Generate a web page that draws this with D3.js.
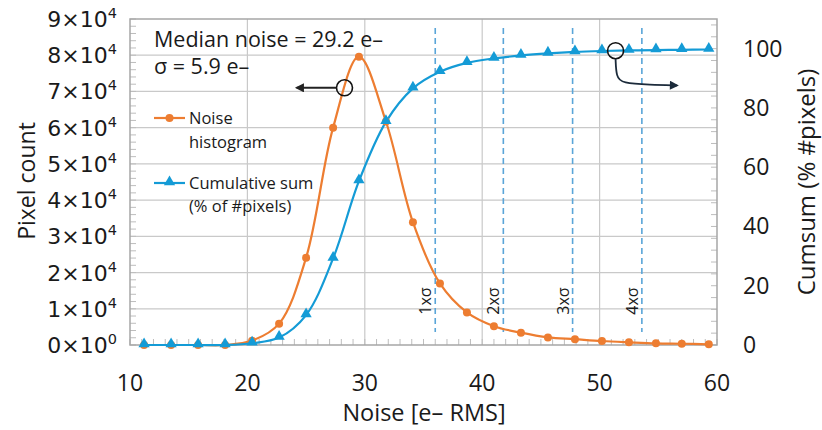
<!DOCTYPE html>
<html>
<head>
<meta charset="utf-8">
<script src="https://cdn.jsdelivr.net/npm/d3@7"></script>
<style>
  body { margin: 0; background: #fff; }
  text { font-family: "Open Sans", sans-serif; fill: #1a1a1a; }
</style>
</head>
<body>
<script>
// noise bins (e- RMS)
var noise = [11.2, 13.5, 15.8, 18.1, 20.4, 22.7, 25.0, 27.3, 29.5, 31.8, 34.1,
             36.4, 38.7, 41.0, 43.3, 45.6, 47.9, 50.2, 52.5, 54.8, 57.0, 59.3];
// pixel count per bin
var histogram = [0, 0, 0, 0, 1200, 5900, 24100, 60000, 79600, 61700, 33900,
                 17000, 9000, 5200, 3400, 2100, 1600, 1100, 750, 450, 350, 200];
// cumulative sum, % of pixels
var cumsum = [0, 0, 0, 0, 0.6, 2.5, 10.1, 29.2, 55.3, 75.3, 86.6,
              92.2, 95.2, 96.7, 97.7, 98.4, 98.9, 99.2, 99.4, 99.5, 99.6, 99.7];

var sigmaPos = [36.0, 41.8, 47.7, 53.6];
var sigmaLabels = ["1xσ", "2xσ", "3xσ", "4xσ"];

var xTicks = [10, 20, 30, 40, 50, 60];
var leftTicks = [0, 1, 2, 3, 4, 5, 6, 7, 8, 9];   // x10^4
var rightTicks = [0, 20, 40, 60, 80, 100];

var width = 822,
	height = 430;

var svg = d3.select("body").append("svg")
	.attr("width", width)
	.attr("height", height);

var xScale = d3.scaleLinear().domain([10, 60]).range([130, 717]);
var yLeft = d3.scaleLinear().domain([0, 90000]).range([345, 19]);
var yRight = d3.scaleLinear().domain([0, 110]).range([345, 19]);

var orange = "#ED7D31",
	blue = "#149BD6",
	grid = "#c9c9c9";

// gridlines
svg.selectAll(".hgrid")
	.data(d3.range(10000, 90000, 10000))
	.enter()
	.append("line")
		.attr("x1", xScale(10)).attr("x2", xScale(60))
		.attr("y1", function(d){ return yLeft(d); })
		.attr("y2", function(d){ return yLeft(d); })
		.attr("stroke", grid).attr("stroke-width", 1.2);

svg.selectAll(".vgrid")
	.data([20, 30, 40, 50])
	.enter()
	.append("line")
		.attr("y1", yLeft(0)).attr("y2", yLeft(90000))
		.attr("x1", function(d){ return xScale(d); })
		.attr("x2", function(d){ return xScale(d); })
		.attr("stroke", grid).attr("stroke-width", 1.2);

// minor ticks, drawn inward
svg.selectAll(".lminor")
	.data(d3.range(0, 90001, 2000))
	.enter()
	.append("line")
		.attr("x1", xScale(10)).attr("x2", xScale(10) + 6)
		.attr("y1", function(d){ return yLeft(d); })
		.attr("y2", function(d){ return yLeft(d); })
		.attr("stroke", "#bdbdbd");

svg.selectAll(".rminor")
	.data(d3.range(0, 109, 4))
	.enter()
	.append("line")
		.attr("x1", xScale(60) - 6).attr("x2", xScale(60))
		.attr("y1", function(d){ return yRight(d); })
		.attr("y2", function(d){ return yRight(d); })
		.attr("stroke", "#bdbdbd");

svg.selectAll(".bminor")
	.data(d3.range(10, 61, 1))
	.enter()
	.append("line")
		.attr("y1", yLeft(0)).attr("y2", yLeft(0) - 6)
		.attr("x1", function(d){ return xScale(d); })
		.attr("x2", function(d){ return xScale(d); })
		.attr("stroke", "#bdbdbd");

// frame
svg.append("rect")
	.attr("x", xScale(10)).attr("y", yLeft(90000))
	.attr("width", xScale(60) - xScale(10))
	.attr("height", yLeft(0) - yLeft(90000))
	.attr("fill", "none")
	.attr("stroke", "#a6a6a6")
	.attr("stroke-width", 1.5);

// sigma lines
svg.selectAll(".sigma")
	.data(sigmaPos)
	.enter()
	.append("line")
		.attr("x1", function(d){ return xScale(d); })
		.attr("x2", function(d){ return xScale(d); })
		.attr("y1", 28).attr("y2", 332)
		.attr("stroke", "#5aa5d8")
		.attr("stroke-width", 1.6)
		.attr("stroke-dasharray", "6,4");

svg.selectAll(".sigmaLabel")
	.data(sigmaPos)
	.enter()
	.append("text")
		.attr("transform", function(d){
			return "translate(" + (xScale(d) - 4) + ",301) rotate(-90)";
		})
		.attr("text-anchor", "middle")
		.style("font-size", "16px")
		.text(function(d, i){ return sigmaLabels[i]; });

// curves
var histLine = d3.line()
	.x(function(d, i){ return xScale(noise[i]); })
	.y(function(d){ return yLeft(d); })
	.curve(d3.curveCatmullRom.alpha(0.5));

var cumLine = d3.line()
	.x(function(d, i){ return xScale(noise[i]); })
	.y(function(d){ return yRight(d); })
	.curve(d3.curveCatmullRom.alpha(0.5));

svg.append("path")
	.datum(histogram)
	.attr("d", histLine)
	.attr("fill", "none")
	.attr("stroke", orange)
	.attr("stroke-width", 2.2);

svg.append("path")
	.datum(cumsum)
	.attr("d", cumLine)
	.attr("fill", "none")
	.attr("stroke", blue)
	.attr("stroke-width", 2.2);

svg.selectAll(".hdot")
	.data(histogram)
	.enter()
	.append("circle")
		.attr("cx", function(d, i){ return xScale(noise[i]); })
		.attr("cy", function(d){ return yLeft(d); })
		.attr("r", 4)
		.attr("fill", orange);

var tri = d3.symbol().type(d3.symbolTriangle).size(55);

svg.selectAll(".ctri")
	.data(cumsum)
	.enter()
	.append("path")
		.attr("d", tri)
		.attr("transform", function(d, i){
			return "translate(" + xScale(noise[i]) + "," + (yRight(d) - 1) + ")";
		})
		.attr("fill", blue);

// left axis labels
var lt = svg.selectAll(".ltick")
	.data(leftTicks)
	.enter()
	.append("text")
		.attr("x", 117)
		.attr("y", function(d){ return yLeft(d * 10000) + 8; })
		.attr("text-anchor", "end")
		.style("font-family", "'DejaVu Sans', sans-serif")
		.style("font-size", "22px");
lt.append("tspan").text(function(d){ return d + "×10"; });
lt.append("tspan")
	.attr("dy", -9)
	.style("font-size", "14.5px")
	.text(function(d){ return d == 0 ? "0" : "4"; });

// right axis labels
svg.selectAll(".rtick")
	.data(rightTicks)
	.enter()
	.append("text")
		.attr("x", 743)
		.attr("y", function(d){ return yRight(d) + 8; })
		.style("font-size", "23px")
		.text(function(d){ return d; });

// bottom axis labels
svg.selectAll(".xtick")
	.data(xTicks)
	.enter()
	.append("text")
		.attr("x", function(d){ return xScale(d); })
		.attr("y", 391)
		.attr("text-anchor", "middle")
		.style("font-size", "23px")
		.text(function(d){ return d; });

// axis titles
svg.append("text")
	.attr("x", 424).attr("y", 421)
	.attr("text-anchor", "middle")
	.style("font-size", "23.5px")
	.text("Noise [e– RMS]");

svg.append("text")
	.attr("transform", "translate(35,181) rotate(-90)")
	.attr("text-anchor", "middle")
	.style("font-size", "23px")
	.text("Pixel count");

svg.append("text")
	.attr("transform", "translate(815,182) rotate(-90)")
	.attr("text-anchor", "middle")
	.style("font-size", "24px")
	.text("Cumsum (% #pixels)");

// stats text
svg.append("text")
	.attr("x", 154).attr("y", 47)
	.style("font-size", "21.5px")
	.text("Median noise = 29.2 e–");

svg.append("text")
	.attr("x", 154).attr("y", 74)
	.style("font-size", "21.5px")
	.text("σ = 5.9 e–");

// legend
svg.append("line")
	.attr("x1", 154).attr("x2", 185).attr("y1", 118).attr("y2", 118)
	.attr("stroke", orange).attr("stroke-width", 2.2);
svg.append("circle")
	.attr("cx", 169.5).attr("cy", 118).attr("r", 4).attr("fill", orange);
svg.append("text").attr("x", 189).attr("y", 124).style("font-size", "16.5px").text("Noise");
svg.append("text").attr("x", 189).attr("y", 148).style("font-size", "16.5px").text("histogram");

svg.append("line")
	.attr("x1", 154).attr("x2", 185).attr("y1", 183).attr("y2", 183)
	.attr("stroke", blue).attr("stroke-width", 2.2);
svg.append("path")
	.attr("d", tri)
	.attr("transform", "translate(169.5,182)")
	.attr("fill", blue);
svg.append("text").attr("x", 189).attr("y", 189).style("font-size", "16.5px").text("Cumulative sum");
svg.append("text").attr("x", 189).attr("y", 212).style("font-size", "16.5px").text("(% of #pixels)");

// arrow annotations
var defs = svg.append("defs");
defs.append("marker")
	.attr("id", "headL")
	.attr("viewBox", "0 0 10 10")
	.attr("refX", 8).attr("refY", 5)
	.attr("markerWidth", 5).attr("markerHeight", 4.5)
	.attr("orient", "auto")
	.append("path").attr("d", "M0,0L10,5L0,10z").attr("fill", "#222");
defs.append("marker")
	.attr("id", "headR")
	.attr("viewBox", "0 0 10 10")
	.attr("refX", 8).attr("refY", 5)
	.attr("markerWidth", 5.5).attr("markerHeight", 5)
	.attr("orient", "auto")
	.append("path").attr("d", "M0,0L10,5L0,10z").attr("fill", "#1c2b3b");

var circL = [28.27, 71000], circR = [51.36, 99.3];

svg.append("circle")
	.attr("cx", xScale(circL[0])).attr("cy", yLeft(circL[1]))
	.attr("r", 8)
	.attr("fill", "none").attr("stroke", "#111").attr("stroke-width", 1.6);
svg.append("line")
	.attr("x1", xScale(circL[0]) - 8).attr("y1", yLeft(circL[1]))
	.attr("x2", xScale(24.2)).attr("y2", yLeft(circL[1]))
	.attr("stroke", "#222").attr("stroke-width", 2)
	.attr("marker-end", "url(#headL)");

svg.append("circle")
	.attr("cx", xScale(circR[0])).attr("cy", yRight(circR[1]))
	.attr("r", 8)
	.attr("fill", "none").attr("stroke", "#111").attr("stroke-width", 1.6);

var arrowPts = [[51.36, 96.6], [51.42, 90.5], [51.9, 88.3], [54.3, 87.8], [56.6, 87.6]];
svg.append("path")
	.datum(arrowPts)
	.attr("d", d3.line()
		.x(function(d){ return xScale(d[0]); })
		.y(function(d){ return yRight(d[1]); })
		.curve(d3.curveBasis))
	.attr("fill", "none")
	.attr("stroke", "#1c2b3b").attr("stroke-width", 1.8)
	.attr("marker-end", "url(#headR)");
</script>
</body>
</html>
